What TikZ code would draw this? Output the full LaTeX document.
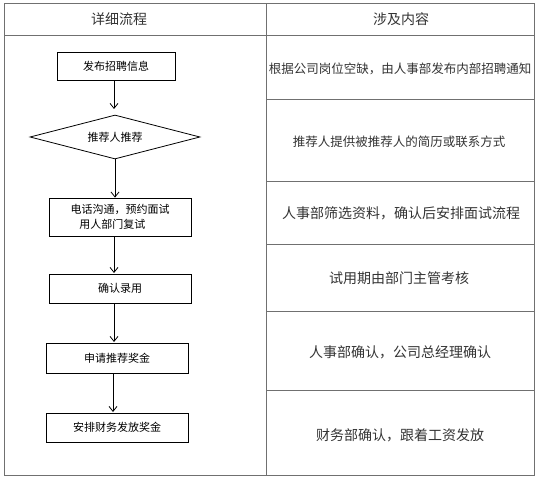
\documentclass[tikz,border=0pt]{standalone}
\usepackage{fontspec}
\setmainfont{Noto Sans CJK SC}
\usetikzlibrary{arrows.meta,shapes.geometric}
\definecolor{gridc}{HTML}{707070}
\definecolor{txt}{HTML}{333333}
\tikzset{
  grid/.style={draw=gridc, line width=1pt},
  fbox/.style={draw=black, line width=0.8pt, inner sep=0pt, font=\fontsize{11}{15}\selectfont},
  fdia/.style={diamond, draw=black, line width=0.8pt, inner sep=0pt, minimum width=170pt, minimum height=44pt, aspect=3.8, font=\fontsize{11}{13}\selectfont},
  flow/.style={draw=black, line width=0.8pt, -{Straight Barb[length=5pt,width=8pt]}},
  head/.style={text=txt, font=\fontsize{14}{16}\selectfont},
  cell/.style={text=txt, font=\fontsize{14}{16}\selectfont},
  cellsm/.style={text=txt, font=\fontsize{12.5}{14}\selectfont},
}
\begin{document}
\begin{tikzpicture}[x=1pt,y=-1pt]
\useasboundingbox (0,0) rectangle (537,478);
% table
\draw[grid] (4,4) rectangle (534,475);
\draw[grid] (4,36) -- (534,36);
\draw[grid] (266,4) -- (266,475);
\foreach \yy in {100,182,244,311,390} \draw[grid] (266,\yy) -- (534,\yy);
% headers
\node[head] (h1) at (119,19) {详细流程};
\node[head] (h2) at (401,19) {涉及内容};
% right column
\node[cellsm] (r1) at (400,69) {根据公司岗位空缺，由人事部发布内部招聘通知};
\node[cellsm] (r2) at (399,142) {推荐人提供被推荐人的简历或联系方式};
\node[cell] (r3) at (401,213) {人事部筛选资料，确认后安排面试流程};
\node[cell] (r4) at (399,278) {试用期由部门主管考核};
\node[cell] (r5) at (400,352) {人事部确认，公司总经理确认};
\node[cell] (r6) at (400,435) {财务部确认，跟着工资发放};
% flowchart
\node[fbox, minimum width=118pt, minimum height=28pt] (b1) at (116,66) {发布招聘信息};
\node[fdia] (b2) at (115,137) {推荐人推荐};
\node[fbox, minimum width=142pt, minimum height=38pt, align=left] (b3) at (120,217) {电话沟通，预约面试\\\hspace*{0.8em}用人部门复试};
\node[fbox, minimum width=142pt, minimum height=29pt] (b4) at (120,288.5) {确认录用};
\node[fbox, minimum width=142pt, minimum height=30pt] (b5) at (117,358) {申请推荐奖金};
\node[fbox, minimum width=142pt, minimum height=29pt] (b6) at (117,427.5) {安排财务发放奖金};
\draw[flow] (b1.south -| 114,0) -- (114,109);
\draw[flow] (b2.south) -- (b2.south |- b3.north);
\draw[flow] (114,236) -- (114,273);
\draw[flow] (114,303) -- (114,342);
\draw[flow] (113,373) -- (113,412);
\end{tikzpicture}
\end{document}
